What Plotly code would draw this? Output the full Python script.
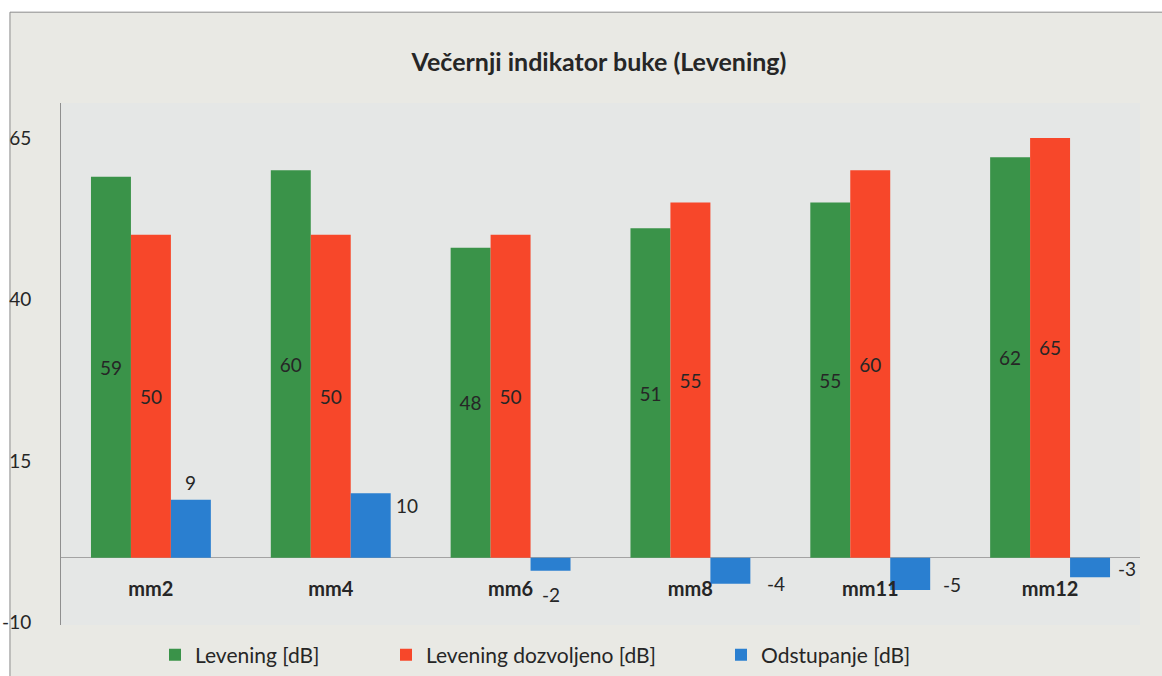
import plotly.graph_objects as go

points = ['mm2', 'mm4', 'mm6', 'mm8', 'mm11', 'mm12']
levening = [59, 60, 48, 51, 55, 62]
dozvoljeno = [50, 50, 50, 55, 60, 65]
odstupanje = [9, 10, -2, -4, -5, -3]

y_ticks = [-10, 15, 40, 65]

GREEN = '#3a9349'
RED = '#f7472a'
BLUE = '#2a7fd0'
FONT = 'Lato, Open Sans, sans-serif'
TEXT = '#262626'

fig = go.Figure()

fig.add_trace(go.Bar(
    x=points, y=levening, name='Levening [dB]',
    marker=dict(color=GREEN, line=dict(width=0)),
    text=levening, textposition='inside', insidetextanchor='middle',
    textangle=0, textfont=dict(size=19, color=TEXT, family=FONT),
    legend='legend'
))
fig.add_trace(go.Bar(
    x=points, y=dozvoljeno, name='Levening dozvoljeno [dB]',
    marker=dict(color=RED, line=dict(width=0)),
    text=dozvoljeno, textposition='inside', insidetextanchor='middle',
    textangle=0, textfont=dict(size=19, color=TEXT, family=FONT),
    legend='legend2'
))
fig.add_trace(go.Bar(
    x=points, y=odstupanje, name='Odstupanje [dB]',
    marker=dict(color=BLUE, line=dict(width=0)),
    legend='legend3'
))

# labels for the deviation bars sit at different spots around each bar
# (xshift, yshift, xanchor, yanchor) - blue bar centre is +40px from category centre
label_style = [
    (40, 4, 'center', 'bottom'),
    (63, -12, 'left', 'middle'),
    (40, -10, 'center', 'top'),
    (75, 0, 'left', 'middle'),
    (71, 6, 'left', 'middle'),
    (66, 9, 'left', 'middle'),
]
for p, v, (xs, ys, xa, ya) in zip(points, odstupanje, label_style):
    fig.add_annotation(
        x=p, y=v, text=str(v), showarrow=False,
        xshift=xs, yshift=ys, xanchor=xa, yanchor=ya,
        font=dict(size=19, color=TEXT, family=FONT)
    )

# chart frame (textured grey card with thin border) and plot area
fig.add_shape(type='rect', xref='paper', yref='paper',
              x0=-0.0473, x1=1.03, y0=-0.12, y1=1.174,
              fillcolor='#e9e9e4', line=dict(color='#8a8a8a', width=1),
              layer='below')
fig.add_shape(type='rect', xref='paper', yref='paper',
              x0=0, x1=1, y0=0, y1=1,
              fillcolor='#e5e7e6', line=dict(width=0),
              layer='below')

legend_common = dict(
    orientation='h', xref='container', yref='container',
    yanchor='middle', y=0.031, xanchor='left',
    bgcolor='rgba(0,0,0,0)',
    font=dict(size=21, color=TEXT, family=FONT),
    itemwidth=30
)

fig.update_layout(
    width=1162, height=676,
    margin=dict(l=61, r=22, t=103, b=51, autoexpand=False),
    paper_bgcolor='white',
    plot_bgcolor='#e5e7e6',
    barmode='group', bargap=1/3, bargroupgap=0,
    font=dict(family=FONT, color=TEXT),
    title=dict(
        text='<b>Večernji indikator buke (Levening)</b>',
        x=599 / 1162, xref='container', xanchor='center',
        y=1 - 62 / 676, yref='container', yanchor='middle',
        font=dict(size=25, color=TEXT, family=FONT)
    ),
    xaxis=dict(
        anchor='free', position=10.4 / 80.8,
        showgrid=False, showline=False, ticks='',
        ticklabelstandoff=17, automargin=False,
        tickfont=dict(size=20, color=TEXT, family=FONT),
        tickprefix='<b>', ticksuffix='</b>'
    ),
    yaxis=dict(
        range=[-10.4, 70.4], tickvals=y_ticks, ticktext=[str(t) for t in y_ticks],
        showgrid=False, zeroline=True, zerolinecolor='#a3a3a3', zerolinewidth=1,
        showline=True, linecolor='#8f8f8f', linewidth=1,
        ticks='', ticklabelstandoff=25, automargin=False,
        tickfont=dict(size=19, color=TEXT, family=FONT)
    ),
    legend=dict(legend_common, x=155 / 1162),
    legend2=dict(legend_common, x=386 / 1162),
    legend3=dict(legend_common, x=721 / 1162),
    showlegend=True,
)

# drop the browser's default body margin so the figure sits at the page corner
fig.write_html("out.html", config={'displayModeBar': False},
               post_script="document.body.style.margin='0px';")
